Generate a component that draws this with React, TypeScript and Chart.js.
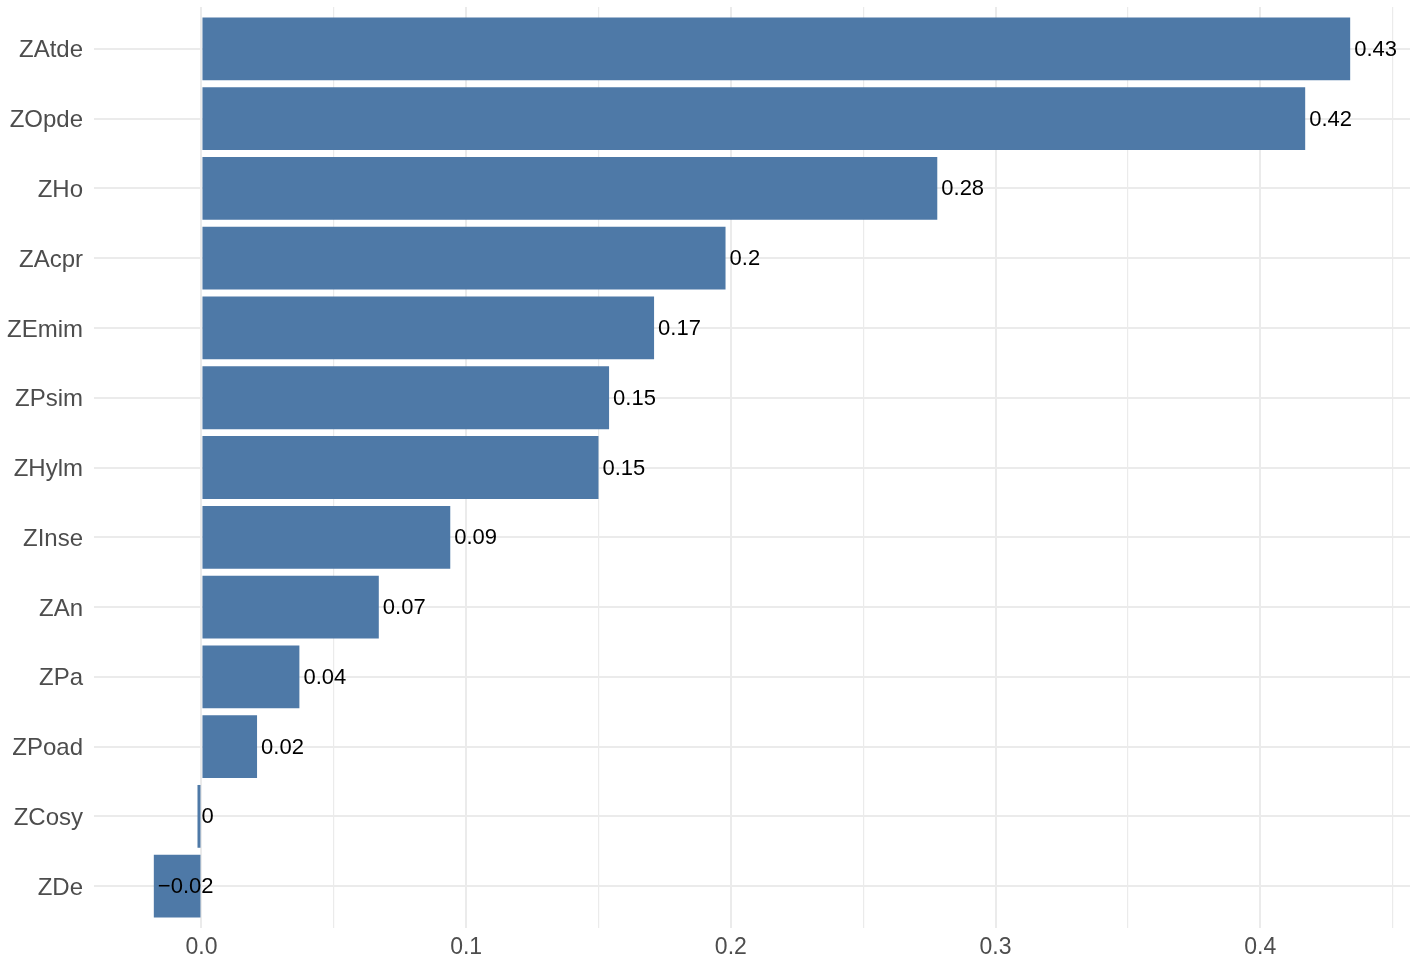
import React, { useEffect, useRef } from "react";
import { Chart, registerables } from "chart.js";

Chart.register(...registerables);

const categories = ["ZAtde", "ZOpde", "ZHo", "ZAcpr", "ZEmim", "ZPsim", "ZHylm", "ZInse", "ZAn", "ZPa", "ZPoad", "ZCosy", "ZDe"];
const values = [0.434, 0.417, 0.278, 0.198, 0.171, 0.154, 0.150, 0.094, 0.067, 0.037, 0.021, -0.0015, -0.018];
const majorTicks = [0, 0.1, 0.2, 0.3, 0.4];
const minorTicks = [0.05, 0.15, 0.25, 0.35, 0.45];

const FONT = "'Liberation Sans', Arial, sans-serif";

function fmtLabel(v: number): string {
  const r = Number(v.toFixed(2));
  if (r === 0) return "0";
  return String(r).replace("-", "\u2212");
}

const isMajor = (v: number) => majorTicks.some((m) => Math.abs(m - v) < 1e-9);

export default function App() {
  const ref = useRef<HTMLCanvasElement | null>(null);

  useEffect(() => {
    if (!ref.current) return;
    const dMin = Math.min(...values);
    const dMax = Math.max(...values);
    const span = dMax - dMin;

    const labelPlugin = {
      id: "valueLabels",
      afterDatasetsDraw(chart: any) {
        const ctx = chart.ctx;
        const xs = chart.scales.x;
        const ys = chart.scales.y;
        ctx.save();
        ctx.font = `22px ${FONT}`;
        ctx.fillStyle = "#000000";
        ctx.textAlign = "left";
        ctx.textBaseline = "middle";
        values.forEach((v, i) => {
          const px = xs.getPixelForValue(v) + 4;
          const py = ys.getPixelForValue(i);
          ctx.fillText(fmtLabel(v), px, py + 1);
        });
        ctx.restore();
      },
    };

    const chart = new Chart(ref.current, {
      type: "bar",
      data: {
        datasets: [
          {
            data: values.map((v, i) => ({ x: v, y: i })),
            backgroundColor: "#4E79A7",
            borderWidth: 0,
            barPercentage: 0.9,
            categoryPercentage: 1,
          },
        ],
      },
      options: {
        indexAxis: "y",
        animation: false,
        responsive: false,
        devicePixelRatio: 1,
        layout: { padding: { top: 7, right: 8, left: 0, bottom: 0 } },
        plugins: { legend: { display: false }, tooltip: { enabled: false } },
        scales: {
          x: {
            type: "linear",
            min: dMin - 0.05 * span,
            max: dMax + 0.05 * span,
            offset: false,
            afterBuildTicks: (scale: any) => {
              scale.ticks = [...majorTicks, ...minorTicks].sort((a, b) => a - b).map((v) => ({ value: v }));
            },
            afterFit: (scale: any) => {
              scale.height = 35;
              scale.paddingLeft = 0;
              scale.paddingRight = 0;
            },
            grid: {
              offset: false,
              color: "#ebebeb",
              lineWidth: (c: any) => (c.tick && isMajor(c.tick.value) ? 2 : 1.2),
              drawTicks: false,
            },
            border: { display: false },
            ticks: {
              autoSkip: false,
              maxRotation: 0,
              padding: 6,
              color: "#4d4d4d",
              font: { family: FONT, size: 23 },
              callback: (v: any) => (isMajor(Number(v)) ? Number(v).toFixed(1) : ""),
            },
          },
          y: {
            type: "linear",
            reverse: true,
            offset: false,
            min: -0.6,
            max: categories.length - 1 + 0.6,
            afterBuildTicks: (scale: any) => {
              scale.ticks = categories.map((_, i) => ({ value: i }));
            },
            afterFit: (scale: any) => {
              scale.width = 94;
              scale.paddingTop = 0;
              scale.paddingBottom = 0;
            },
            grid: { offset: false, color: "#ebebeb", lineWidth: 2, drawTicks: false },
            border: { display: false },
            ticks: {
              autoSkip: false,
              padding: 11,
              labelOffset: 2,
              color: "#4d4d4d",
              font: { family: FONT, size: 24 },
              callback: (v: any) => categories[Number(v)] ?? "",
            },
          },
        },
      },
      plugins: [labelPlugin],
    } as any);
    return () => chart.destroy();
  }, []);

  return (
    <div style={{ position: "fixed", left: 0, top: 0, width: 1418, height: 963, background: "#ffffff" }}>
      <canvas ref={ref} width={1418} height={963} style={{ width: 1418, height: 963, display: "block" }} />
    </div>
  );
}
